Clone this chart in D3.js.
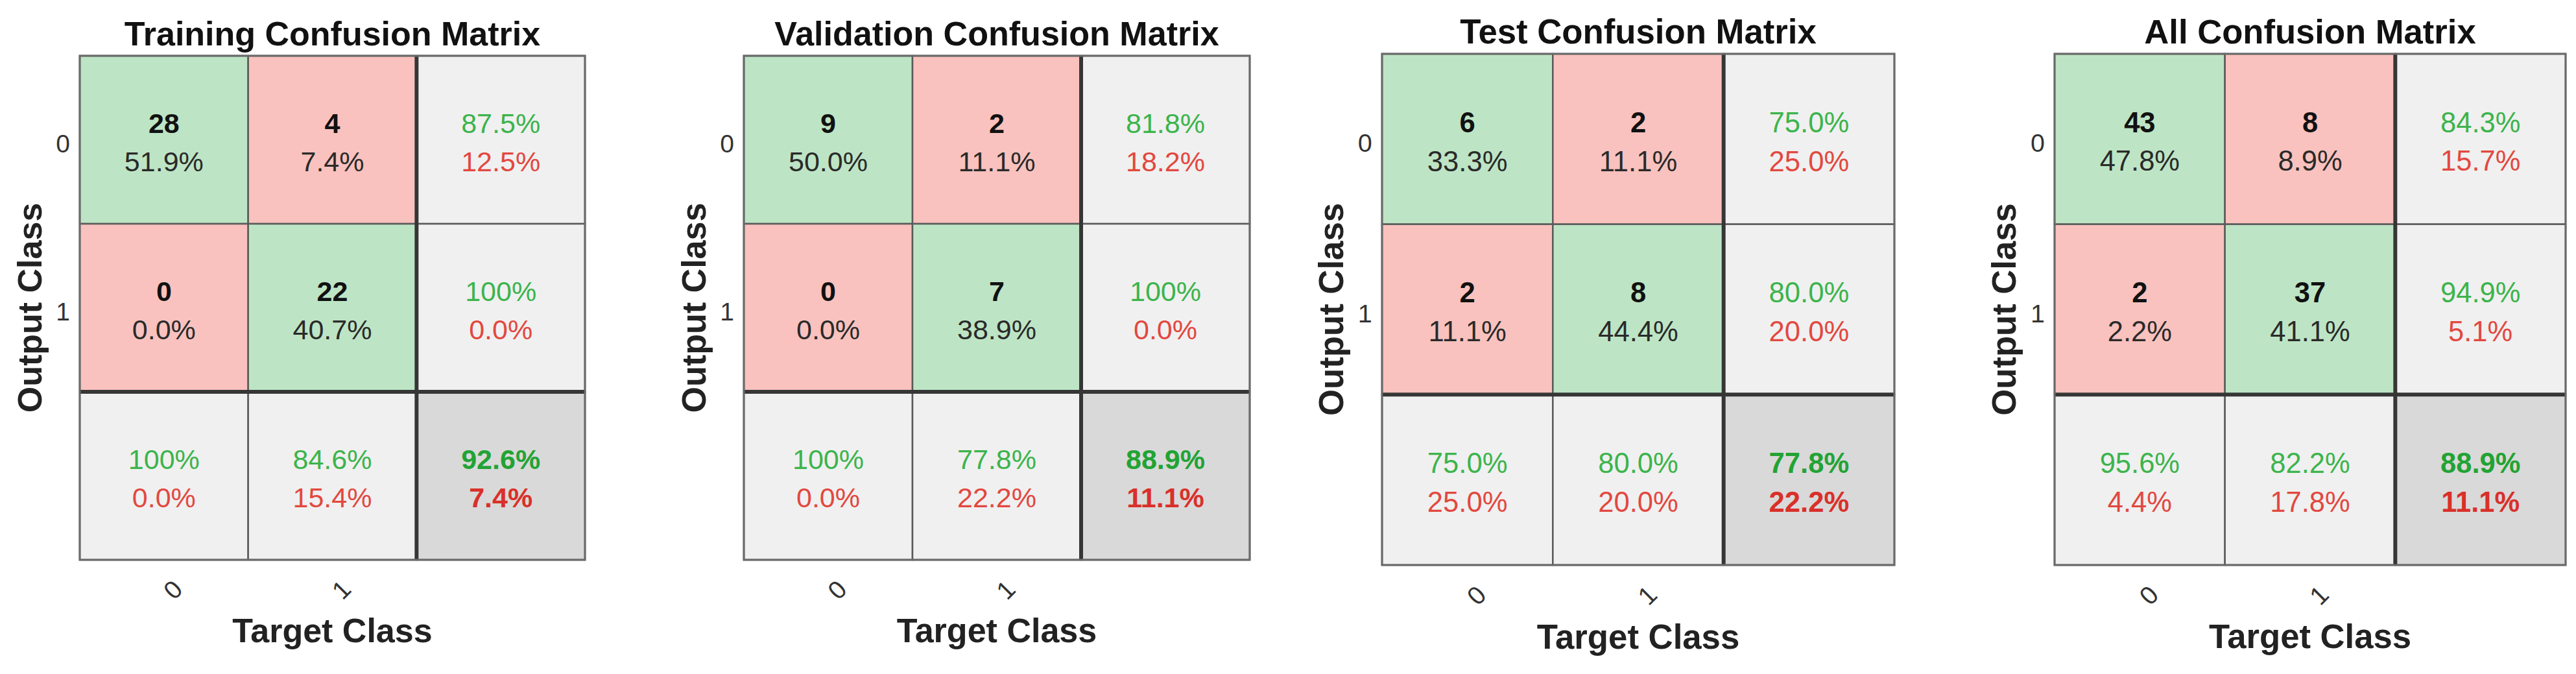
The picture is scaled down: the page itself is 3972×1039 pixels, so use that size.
<!DOCTYPE html>
<html>
<head>
<meta charset="utf-8">
<script src="https://cdn.jsdelivr.net/npm/d3@7"></script>
<style>
  html, body { margin: 0; padding: 0; background: #ffffff; }
  svg { display: block; }
  text { font-family: "Liberation Sans", Arial, Helvetica, sans-serif; }
</style>
</head>
<body>
<svg id="chart" width="3972" height="1039"></svg>
<script>
// ---------------- data ----------------
const titles = ["Training Confusion Matrix", "Validation Confusion Matrix", "Test Confusion Matrix", "All Confusion Matrix"];
const classes = ["0", "1"];
const counts = [
  [[28, 4], [0, 22]],
  [[9, 2], [0, 7]],
  [[6, 2], [2, 8]],
  [[43, 8], [2, 37]]
];
const cellPct = [
  [["51.9%", "7.4%"], ["0.0%", "40.7%"]],
  [["50.0%", "11.1%"], ["0.0%", "38.9%"]],
  [["33.3%", "11.1%"], ["11.1%", "44.4%"]],
  [["47.8%", "8.9%"], ["2.2%", "41.1%"]]
];
const rowGood = [["87.5%", "100%"], ["81.8%", "100%"], ["75.0%", "80.0%"], ["84.3%", "94.9%"]];
const rowBad  = [["12.5%", "0.0%"], ["18.2%", "0.0%"], ["25.0%", "20.0%"], ["15.7%", "5.1%"]];
const colGood = [["100%", "84.6%"], ["100%", "77.8%"], ["75.0%", "80.0%"], ["95.6%", "82.2%"]];
const colBad  = [["0.0%", "15.4%"], ["0.0%", "22.2%"], ["25.0%", "20.0%"], ["4.4%", "17.8%"]];
const totalGood = ["92.6%", "88.9%", "77.8%", "88.9%"];
const totalBad  = ["7.4%", "11.1%", "22.2%", "11.1%"];
const xAxisLabel = "Target Class";
const yAxisLabel = "Output Class";

// ---------------- layout ----------------
const panels = [
  { left: 123,  top: 86, w: 779, h: 777 },
  { left: 1147, top: 86, w: 780, h: 777 },
  { left: 2131, top: 83, w: 790, h: 788 },
  { left: 3168, top: 83, w: 788, h: 788 }
];

const C = {
  green: "#bde5c5",
  red: "#f9c2be",
  gray: "#f0f0f0",
  dark: "#d9d9d9",
  gText: "#3cb44c",
  rText: "#e2483f",
  gBold: "#22a334",
  rBold: "#d9302a",
  thin: "#5a5a5a",
  thick: "#363636",
  outer: "#6a6a6a"
};

const svg = d3.select("#chart");
const keys = classes.concat(["summary"]);

panels.forEach((p, pi) => {
  const k = p.w / 779;
  const g = svg.append("g");
  const x = d3.scaleBand().domain(keys).range([p.left, p.left + p.w]);
  const y = d3.scaleBand().domain(keys).range([p.top, p.top + p.h]);

  // build cell list
  const cells = [];
  keys.forEach((rk, ri) => {
    keys.forEach((ck, ci) => {
      let fill, l1, l2, c1, c2, w1, w2;
      if (ri < 2 && ci < 2) {
        fill = ri === ci ? C.green : C.red;
        l1 = String(counts[pi][ri][ci]); l2 = cellPct[pi][ri][ci];
        c1 = "#111"; c2 = "#2a2a2a"; w1 = "bold"; w2 = "normal";
      } else if (ri < 2 && ci === 2) {
        fill = C.gray; l1 = rowGood[pi][ri]; l2 = rowBad[pi][ri];
        c1 = C.gText; c2 = C.rText; w1 = w2 = "normal";
      } else if (ri === 2 && ci < 2) {
        fill = C.gray; l1 = colGood[pi][ci]; l2 = colBad[pi][ci];
        c1 = C.gText; c2 = C.rText; w1 = w2 = "normal";
      } else {
        fill = C.dark; l1 = totalGood[pi]; l2 = totalBad[pi];
        c1 = C.gBold; c2 = C.rBold; w1 = w2 = "bold";
      }
      cells.push({ rk, ck, fill, l1, l2, c1, c2, w1, w2 });
    });
  });

  g.selectAll("rect.cell").data(cells).join("rect")
    .attr("class", "cell")
    .attr("x", d => x(d.ck)).attr("y", d => y(d.rk))
    .attr("width", x.bandwidth()).attr("height", y.bandwidth())
    .attr("fill", d => d.fill)
    .attr("stroke", C.thin).attr("stroke-width", 2.5);

  // thick separators
  const sx = x("summary"), sy = y("summary");
  g.append("line").attr("x1", sx).attr("x2", sx).attr("y1", p.top).attr("y2", p.top + p.h)
    .attr("stroke", C.thick).attr("stroke-width", 6);
  g.append("line").attr("x1", p.left).attr("x2", p.left + p.w).attr("y1", sy).attr("y2", sy)
    .attr("stroke", C.thick).attr("stroke-width", 6);
  // outer border
  g.append("rect").attr("x", p.left).attr("y", p.top).attr("width", p.w).attr("height", p.h)
    .attr("fill", "none").attr("stroke", C.outer).attr("stroke-width", 3);

  const fs = 43 * k;
  const txt = g.selectAll("g.ct").data(cells).join("g").attr("class", "ct")
    .attr("transform", d => `translate(${x(d.ck) + x.bandwidth() / 2},${y(d.rk) + y.bandwidth() / 2})`);
  txt.append("text").attr("text-anchor", "middle").attr("y", -10.5 * k)
    .attr("font-size", fs).attr("font-weight", d => d.w1).attr("fill", d => d.c1).text(d => d.l1);
  txt.append("text").attr("text-anchor", "middle").attr("y", 48.5 * k)
    .attr("font-size", fs).attr("font-weight", d => d.w2).attr("fill", d => d.c2).text(d => d.l2);

  // title
  g.append("text").attr("x", p.left + p.w / 2).attr("y", p.top - 16 * k)
    .attr("text-anchor", "middle").attr("font-size", 52 * k).attr("font-weight", "bold")
    .attr("fill", "#111").text(titles[pi]);

  // y tick labels
  g.selectAll("text.yt").data(classes).join("text").attr("class", "yt")
    .attr("x", p.left - 15 * k).attr("y", d => y(d) + y.bandwidth() / 2 + 19.5 * k)
    .attr("text-anchor", "end").attr("font-size", 39 * k).attr("fill", "#333").text(d => d);

  // x tick labels (rotated)
  g.selectAll("text.xt").data(classes).join("text").attr("class", "xt")
    .attr("transform", d => `translate(${x(d) + x.bandwidth() / 2 + 31 * k},${p.top + p.h + 48 * k}) rotate(-45)`)
    .attr("text-anchor", "end").attr("font-size", 39 * k).attr("fill", "#333").text(d => d);

  // axis labels
  g.append("text").attr("x", p.left + p.w / 2).attr("y", p.top + p.h + 127 * k)
    .attr("text-anchor", "middle").attr("font-size", 52 * k).attr("font-weight", "bold")
    .attr("fill", "#222").text(xAxisLabel);
  g.append("text")
    .attr("transform", `translate(${p.left - 59 * k},${p.top + p.h / 2}) rotate(-90)`)
    .attr("text-anchor", "middle").attr("font-size", 52 * k).attr("font-weight", "bold")
    .attr("fill", "#222").text(yAxisLabel);
});
</script>
</body>
</html>
